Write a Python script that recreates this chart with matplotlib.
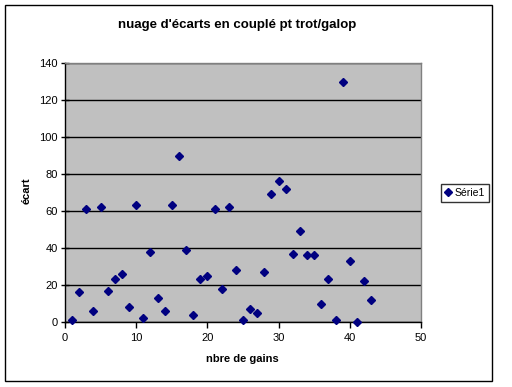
import matplotlib
matplotlib.use("Agg")
import matplotlib.pyplot as plt
from matplotlib.patches import Rectangle

plt.rcParams['font.family'] = ['Liberation Sans', 'DejaVu Sans']

x_vals = list(range(1, 44))
y_vals = [1, 16, 61, 6, 62, 17, 23, 26, 8, 63, 2, 38, 13, 6, 63, 90, 39, 4, 23, 25,
          61, 18, 62, 28, 1, 7, 5, 27, 69, 76, 72, 37, 49, 36, 36, 10, 23, 1, 130, 33,
          0, 22, 12]
series_name = "Série1"
title = "nuage d'écarts en couplé pt trot/galop"
xlabel = "nbre de gains"
ylabel = "écart"

W, H = 512, 387
fig = plt.figure(figsize=(W / 100, H / 100), dpi=100)

# outer chart border
fig.patches.append(Rectangle((5 / W, 1 - 381 / H), 487 / W, 376 / H,
                             transform=fig.transFigure, fill=False,
                             edgecolor='black', linewidth=1.0))

ax = fig.add_axes([65 / W, 1 - 322 / H, 356 / W, 259 / H])
ax.set_facecolor('#C0C0C0')
ax.set_xlim(0, 50)
ax.set_ylim(0, 140)
ax.set_xticks(range(0, 51, 10))
ax.set_yticks(range(0, 141, 20))
ax.grid(axis='y', color='black', linewidth=1.0)
ax.set_axisbelow(True)

ax.plot(x_vals, y_vals, linestyle='none', marker='D', markersize=3.6,
        color='#000080', label=series_name, zorder=3, clip_on=False)

for s in ['top', 'right']:
    ax.spines[s].set_color('#808080')
    ax.spines[s].set_linewidth(1.0)
for s in ['left', 'bottom']:
    ax.spines[s].set_color('black')
    ax.spines[s].set_linewidth(1.0)

ax.tick_params(axis='y', direction='inout', length=6, width=1, labelsize=8, pad=2)
ax.tick_params(axis='x', direction='out', length=4, width=1, labelsize=8, pad=4)

fig.text(237 / W, 1 - 25 / H, title, ha='center', va='center',
         fontsize=9.5, fontweight='bold')
fig.text(242 / W, 1 - 359 / H, xlabel, ha='center', va='center',
         fontsize=8, fontweight='bold')
fig.text(27 / W, 1 - 191 / H, ylabel, ha='center', va='center',
         fontsize=8, fontweight='bold', rotation=90)

leg = fig.legend(loc='center', bbox_to_anchor=(465 / W, 1 - 193 / H),
                 frameon=True, fancybox=False, fontsize=7.5, handlelength=0.7,
                 handletextpad=0.3, borderpad=0.35, markerscale=1.0)
leg.get_frame().set_edgecolor('black')
leg.get_frame().set_linewidth(1.0)

fig.savefig('out.png', dpi=100)
